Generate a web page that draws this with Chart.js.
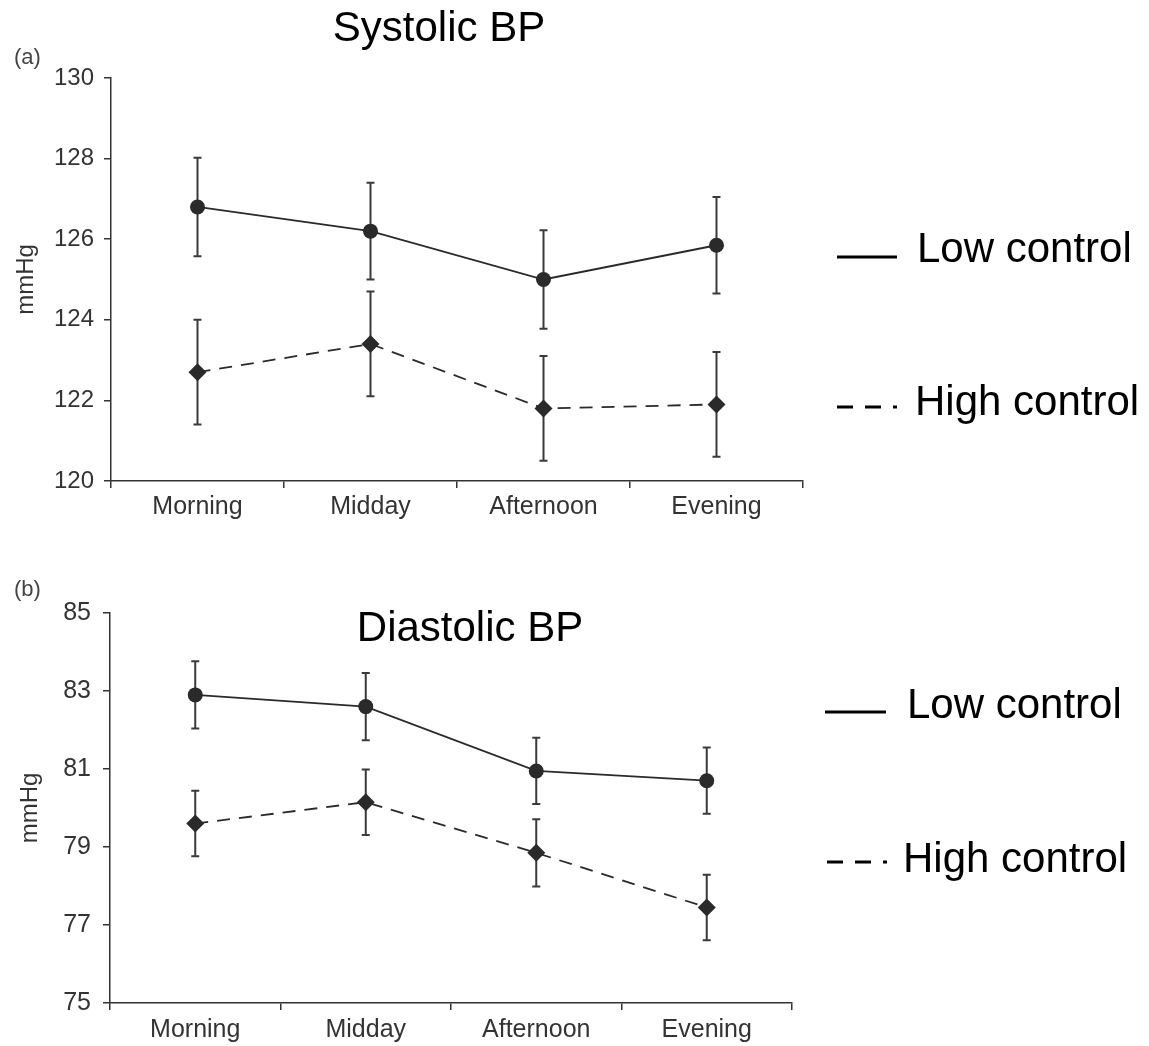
<!DOCTYPE html>
<html>
<head>
<meta charset="utf-8">
<script src="https://cdn.jsdelivr.net/npm/chart.js@4.4.1/dist/chart.umd.min.js"></script>
<style>
  html, body { margin: 0; padding: 0; background: #fff; }
  #wrap { position: relative; width: 1149px; height: 1046px; }
  canvas { position: absolute; left: 0; }
</style>
</head>
<body>
<div id="wrap">
  <canvas id="sysChart" width="1149" height="560" style="top:0"></canvas>
  <canvas id="diaChart" width="1149" height="486" style="top:560px"></canvas>
</div>
<script>
// Data (means and error bar half-lengths, mmHg)
const categories = ['Morning', 'Midday', 'Afternoon', 'Evening'];
const seriesNames = ['Low control', 'High control'];

const sysLow = [126.8, 126.2, 125.0, 125.85];
const sysLowErr = [1.22, 1.2, 1.22, 1.2];
const sysHigh = [122.7, 123.4, 121.8, 121.9];
const sysHighErr = [1.3, 1.3, 1.3, 1.3];

const diaLow = [82.9, 82.6, 80.95, 80.7];
const diaLowErr = [0.86, 0.86, 0.85, 0.85];
const diaHigh = [79.6, 80.15, 78.85, 77.45];
const diaHighErr = [0.84, 0.84, 0.86, 0.84];

const sysRange = [120, 130];
const diaRange = [75, 85];
const tickStep = 2;

const FONT = "'Liberation Sans', Arial, Helvetica, sans-serif";
const INK = '#2a2a2a';

// Draws vertical error bars with small caps, behind the markers
const errorBarPlugin = {
    id: 'errorBars',
    beforeDatasetsDraw(chart) {
        const ctx = chart.ctx;
        const yScale = chart.scales.y;
        chart.data.datasets.forEach((ds, di) => {
            if (!ds.err) return;
            const meta = chart.getDatasetMeta(di);
            ctx.save();
            ctx.strokeStyle = '#3a3a3a';
            ctx.lineWidth = 2;
            ctx.setLineDash([]);
            meta.data.forEach((pt, i) => {
                const x = pt.x;
                const yTop = yScale.getPixelForValue(ds.data[i] + ds.err[i]);
                const yBot = yScale.getPixelForValue(ds.data[i] - ds.err[i]);
                ctx.beginPath();
                ctx.moveTo(x, yTop);
                ctx.lineTo(x, yBot);
                ctx.moveTo(x - 4, yTop);
                ctx.lineTo(x + 4, yTop);
                ctx.moveTo(x - 4, yBot);
                ctx.lineTo(x + 4, yBot);
                ctx.stroke();
            });
            ctx.restore();
        });
    }
};

// Panel letter, big title and the hand-placed legend at the right
const panelTextPlugin = {
    id: 'panelText',
    afterDraw(chart, args, opts) {
        const ctx = chart.ctx;
        ctx.save();
        ctx.textBaseline = 'alphabetic';

        ctx.fillStyle = '#444';
        ctx.font = '22px ' + FONT;
        ctx.textAlign = 'left';
        ctx.fillText(opts.tag, 14, opts.tagY);

        ctx.fillStyle = '#000';
        ctx.font = '42px ' + FONT;
        ctx.textAlign = 'center';
        ctx.fillText(opts.title, opts.titleX, opts.titleY);

        ctx.textAlign = 'left';
        chart.data.datasets.forEach((ds, i) => {
            const item = opts.legend[i];
            ctx.strokeStyle = '#000';
            ctx.lineWidth = 3;
            ctx.setLineDash(item.dash);
            ctx.beginPath();
            ctx.moveTo(item.x0, item.y);
            ctx.lineTo(item.x1, item.y);
            ctx.stroke();
            ctx.setLineDash([]);
            ctx.fillText(ds.label, item.textX, item.textY);
        });
        ctx.restore();
    }
};

function makeDatasets(low, lowErr, high, highErr) {
    return [{
        label: seriesNames[0],
        data: low,
        err: lowErr,
        borderColor: INK,
        borderWidth: 1.8,
        pointStyle: 'circle',
        pointRadius: 7.5,
        pointBackgroundColor: INK,
        pointBorderWidth: 0,
        tension: 0
    }, {
        label: seriesNames[1],
        data: high,
        err: highErr,
        borderColor: INK,
        borderWidth: 1.8,
        borderDash: [13, 9],
        pointStyle: 'rectRot',
        pointRadius: 9,
        pointBackgroundColor: INK,
        pointBorderWidth: 0,
        tension: 0
    }];
}

function axisCommon() {
    return {
        grid: { drawOnChartArea: false, drawTicks: true, tickLength: 7, color: '#333', lineWidth: 1.5 },
        border: { color: '#333', width: 1.5 }
    };
}

function buildChart(canvasId, cfg) {
    const xAxis = axisCommon();
    const yAxis = axisCommon();
    return new Chart(document.getElementById(canvasId), {
        type: 'line',
        data: {
            labels: categories,
            datasets: makeDatasets(cfg.low, cfg.lowErr, cfg.high, cfg.highErr)
        },
        options: {
            responsive: false,
            animation: false,
            layout: { padding: cfg.padding },
            plugins: {
                legend: { display: false },
                tooltip: { enabled: false },
                panelText: cfg.text
            },
            scales: {
                x: {
                    type: 'category',
                    offset: true,
                    grid: Object.assign(xAxis.grid, { offset: true }),
                    border: xAxis.border,
                    ticks: { color: '#333', font: { family: FONT, size: 25 }, padding: cfg.xPad, maxRotation: 0 },
                    afterFit: s => { s.height = cfg.xHeight; }
                },
                y: {
                    min: cfg.range[0],
                    max: cfg.range[1],
                    grid: yAxis.grid,
                    border: yAxis.border,
                    ticks: { stepSize: tickStep, color: '#333', font: { family: FONT, size: cfg.yFont }, padding: cfg.yPad },
                    title: {
                        display: true,
                        text: 'mmHg',
                        color: '#333',
                        font: { family: FONT, size: 24 },
                        padding: { top: cfg.titlePad, bottom: 0 }
                    },
                    afterFit: s => { s.width = cfg.yWidth; }
                }
            }
        },
        plugins: [errorBarPlugin, panelTextPlugin]
    });
}

// (a) Systolic
buildChart('sysChart', {
    low: sysLow, lowErr: sysLowErr, high: sysHigh, highErr: sysHighErr,
    range: sysRange,
    padding: { left: 0, top: 78, right: 346, bottom: 29 },
    xHeight: 50, xPad: 4, yWidth: 111, yPad: 10, yFont: 24, titlePad: 12,
    text: {
        tag: '(a)', tagY: 64,
        title: 'Systolic BP', titleX: 439, titleY: 41,
        legend: [
            { x0: 837, x1: 897, y: 257, dash: [], textX: 917, textY: 262 },
            { x0: 837, x1: 897, y: 407, dash: [16, 12], textX: 915, textY: 415 }
        ]
    }
});

// (b) Diastolic
buildChart('diaChart', {
    low: diaLow, lowErr: diaLowErr, high: diaHigh, highErr: diaHighErr,
    range: diaRange,
    padding: { left: 0, top: 53, right: 357, bottom: 0 },
    xHeight: 43, xPad: 5, yWidth: 110, yPad: 12, yFont: 25, titlePad: 16,
    text: {
        tag: '(b)', tagY: 36,
        title: 'Diastolic BP', titleX: 470, titleY: 81,
        legend: [
            { x0: 825, x1: 886, y: 152, dash: [], textX: 907, textY: 158 },
            { x0: 827, x1: 887, y: 302, dash: [16, 12], textX: 903, textY: 312 }
        ]
    }
});
</script>
</body>
</html>
